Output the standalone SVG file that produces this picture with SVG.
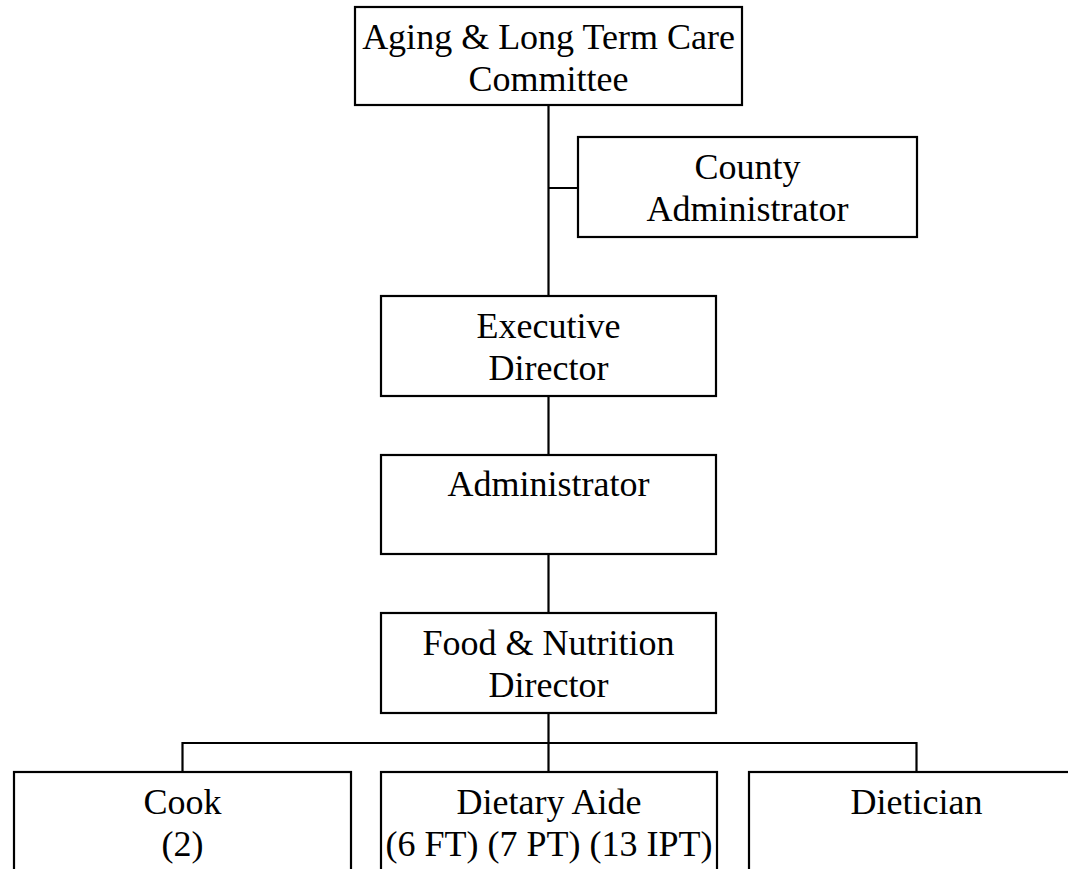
<svg xmlns="http://www.w3.org/2000/svg" width="1068" height="869" viewBox="0 0 1068 869">
<style>
.box{fill:#fff;stroke:#000;stroke-width:2.2}
.t{font-family:"Liberation Serif","Times New Roman",serif;font-size:36px;fill:#000;text-anchor:middle}
.c{fill:none;stroke:#000;stroke-width:2.2}
</style>
<rect width="1068" height="869" fill="#fff"/>
<g id="connectors">
<path class="c" d="M548.5 105V296M548.5 188H578M548.5 396V455M548.5 554V613M548.5 713V772M182.5 743H916.5M182.5 742V772M916.5 742V772"/>
</g>
<g id="committee"><rect class="box" x="355" y="7" width="387" height="98"/><text class="t" x="548.5" y="48.5">Aging &amp; Long Term Care</text><text class="t" x="548.5" y="90.5">Committee</text></g>
<g id="county-admin"><rect class="box" x="578" y="137" width="339" height="100"/><text class="t" x="747.5" y="179">County</text><text class="t" x="747.5" y="221">Administrator</text></g>
<g id="exec-director"><rect class="box" x="381" y="296" width="335" height="100"/><text class="t" x="548.5" y="338">Executive</text><text class="t" x="548.5" y="380">Director</text></g>
<g id="administrator"><rect class="box" x="381" y="455" width="335" height="99"/><text class="t" x="548.5" y="496">Administrator</text></g>
<g id="food-director"><rect class="box" x="381" y="613" width="335" height="100"/><text class="t" x="548.5" y="655">Food &amp; Nutrition</text><text class="t" x="548.5" y="697">Director</text></g>
<g id="cook"><rect class="box" x="14" y="772" width="337" height="100"/><text class="t" x="182.5" y="813.5">Cook</text><text class="t" x="182.5" y="856">(2)</text></g>
<g id="dietary-aide"><rect class="box" x="381" y="772" width="336" height="100"/><text class="t" x="549" y="813.5">Dietary Aide</text><text class="t" x="549" y="856">(6 FT) (7 PT) (13 IPT)</text></g>
<g id="dietician"><rect class="box" x="749" y="772" width="336" height="100"/><text class="t" x="916.5" y="813.5">Dietician</text></g>
</svg>
